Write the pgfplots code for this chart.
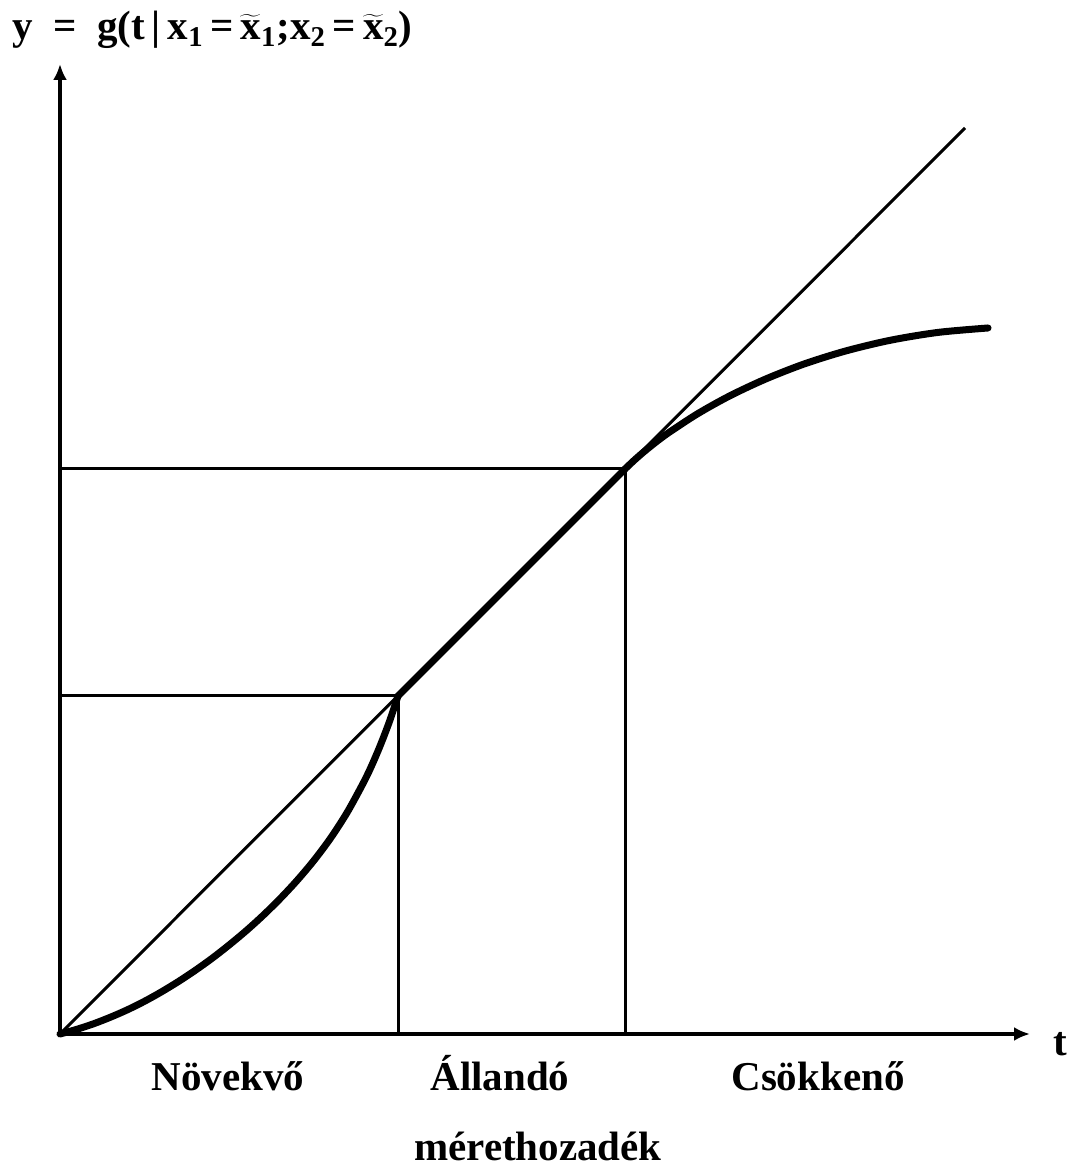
\documentclass[border=0pt]{standalone}
\usepackage{fontspec}
\setmainfont{Liberation Serif}
\usepackage{pgfplots}
\pgfplotsset{compat=1.18}
\usetikzlibrary{arrows.meta}

% Production function along the ray: increasing, constant, decreasing returns
\pgfplotstableread{
t      y
0      0
16.9   4.7
33.8   10.3
50.7   16.9
67.6   24.3
84.5   32.7
101.4  42.1
118.3  52.4
135.2  63.6
152.1  75.7
169.0  88.9
185.9  103.0
202.8  118.3
219.7  134.9
236.6  153.0
253.5  173.0
270.4  195.6
287.3  221.8
304.2  252.8
312.7  270.7
321.1  290.6
329.6  312.9
338    338
}\increasing

\pgfplotstableread{
t    y
338  338
565  565
}\constant

\pgfplotstableread{
t      y
565    565
574.6  574.1
585.2  583.3
596.8  592.6
609.5  601.9
637.7  620.3
669.7  638.1
705.3  654.8
744.1  670.0
786.0  683.1
830.7  693.8
878.2  701.6
928    706
}\decreasing

\newcommand{\lab}{\fontsize{20.5}{24}\selectfont\bfseries}

\begin{document}
\begin{tikzpicture}
\begin{axis}[
  x=0.5pt, y=0.5pt,
  xmin=0, xmax=970, ymin=0, ymax=970,
  axis lines=left,
  axis line style={line width=2pt, -{Latex[length=8pt,width=7pt]}},
  xtick=\empty, ytick=\empty,
  clip=false,
]
% reference ray (constant returns)
\addplot[black, line width=1.5pt] coordinates {(0,0) (905,906)};
% guide lines at the two regime boundaries
\addplot[black, line width=1.5pt] coordinates {(0,338) (338,338) (338,0)};
\addplot[black, line width=1.5pt] coordinates {(0,565) (565,565) (565,0)};
% the production curve
\addplot[black, line width=3.5pt, smooth, line cap=round, line join=round] table {\increasing};
\addplot[black, line width=3.5pt, line cap=round] table {\constant};
\addplot[black, line width=3.5pt, smooth, line cap=round, line join=round] table {\decreasing};

\node[anchor=base west, inner sep=0pt] at (axis cs:-48,994)
  {\lab y\enspace=\enspace g(t\,|\,x\textsubscript{1}\,=\,$\widetilde{\mbox{x}}$\textsubscript{1};x\textsubscript{2}\,=\,$\widetilde{\mbox{x}}$\textsubscript{2})};
\node[anchor=base, inner sep=0pt] at (axis cs:1000,-21) {\lab t};
\node[anchor=base, inner sep=0pt] at (axis cs:168,-56) {\lab Növekvő};
\node[anchor=base, inner sep=0pt] at (axis cs:440,-56) {\lab Állandó};
\node[anchor=base, inner sep=0pt] at (axis cs:758,-56) {\lab Csökkenő};
\node[anchor=base, inner sep=0pt] at (axis cs:478,-126) {\lab mérethozadék};

\path (axis cs:-60,-132) rectangle (axis cs:1013,1034);
\end{axis}
\end{tikzpicture}
\end{document}
